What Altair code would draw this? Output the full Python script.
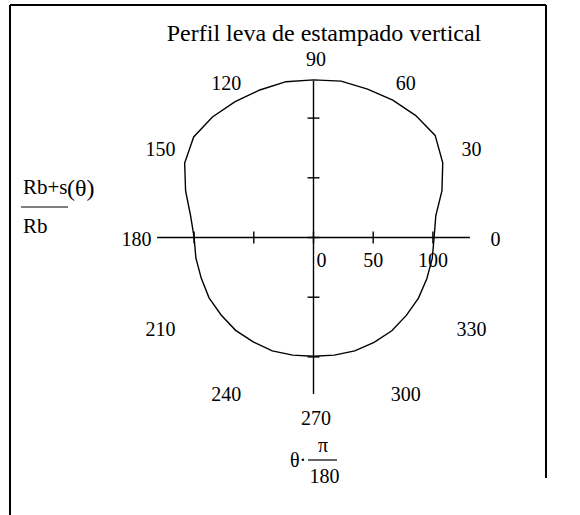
import altair as alt
import pandas as pd

# Cam profile (Rb+s(theta))/Rb, sampled every 10 degrees, scaled so the base circle is 100
theta_deg = list(range(0, 361, 10))
radius = [101, 104, 114.5, 125, 133, 133.3, 132.8, 132.3, 133, 132,
          132.5, 131.5, 131.3, 131.7, 131, 124.6, 114, 104.5, 100,
          100, 100, 101, 101, 101.5, 101, 101, 100, 99.5,
          100, 101, 101.5, 102, 101.5, 101.5, 101, 101, 101]

# Polar grid annotations
angle_labels = [0, 30, 60, 90, 120, 150, 180, 210, 240, 270, 300, 330]
tick_values = [-100, -50, 0, 50, 100]
radial_labels = [50, 100]
zero_label = [0]

W, H = 580, 515
PX = 59.7 / 50            # pixels per radial unit
CX, CY = 313.5, 237.5     # pixel position of the pole
AXIS_R = 131              # half-length of the crossing axes
LABEL_R = 150.3           # radius of the angle labels
FONT = "Liberation Serif"

xs = alt.Scale(domain=[-CX / PX, (W - CX) / PX], nice=False, zero=False)
ys = alt.Scale(domain=[-(H - CY) / PX, CY / PX], nice=False, zero=False)


def X(field):
    return alt.X(field, type="quantitative", scale=xs, axis=None)


def Y(field):
    return alt.Y(field, type="quantitative", scale=ys, axis=None)


profile = pd.DataFrame({"theta": theta_deg, "r": radius})
curve = (
    alt.Chart(profile)
    .transform_calculate(
        px="datum.r * cos(datum.theta * PI / 180)",
        py="datum.r * sin(datum.theta * PI / 180)",
    )
    .mark_line(color="black", strokeWidth=1.4, interpolate="linear")
    .encode(x=X("px"), y=Y("py"), order=alt.Order("theta:Q"))
)

axes_df = pd.DataFrame({
    "x": [-AXIS_R, 0], "x2": [AXIS_R, 0],
    "y": [0, -AXIS_R], "y2": [0, AXIS_R],
})
axes = alt.Chart(axes_df).mark_rule(color="black", strokeWidth=1.4).encode(
    x=X("x"), x2="x2", y=Y("y"), y2="y2"
)

ticks_df = pd.DataFrame({"v": tick_values})
hticks = (
    alt.Chart(ticks_df)
    .transform_calculate(lo="-5", hi="5")
    .mark_rule(color="black", strokeWidth=1.4)
    .encode(x=X("v"), y=Y("lo:Q"), y2="hi:Q")
)
vticks = (
    alt.Chart(ticks_df)
    .transform_calculate(lo="-5", hi="5")
    .mark_rule(color="black", strokeWidth=1.4)
    .encode(y=Y("v"), x=X("lo:Q"), x2="hi:Q")
)

ang = (
    alt.Chart(pd.DataFrame({"a": angle_labels}))
    .transform_calculate(
        lx="%f * cos(datum.a * PI / 180)" % LABEL_R,
        ly="%f * sin(datum.a * PI / 180)" % LABEL_R,
    )
    .mark_text(font=FONT, fontSize=20, color="black", align="center",
               baseline="middle", dx=2.5, dy=2.3)
    .encode(x=X("lx:Q"), y=Y("ly:Q"), text="a:Q")
)

rlab = (
    alt.Chart(pd.DataFrame({"v": radial_labels}))
    .transform_calculate(zy="0")
    .mark_text(font=FONT, fontSize=20, color="black", align="center",
               baseline="middle", dy=23)
    .encode(x=X("v"), y=Y("zy:Q"), text="v:Q")
)
rzero = (
    alt.Chart(pd.DataFrame({"v": zero_label}))
    .transform_calculate(zy="0")
    .mark_text(font=FONT, fontSize=20, color="black", align="left",
               baseline="middle", dx=3, dy=23)
    .encode(x=X("v"), y=Y("zy:Q"), text="v:Q")
)

one = pd.DataFrame({"k": [0]})


def txt(s, x, y, size=20, align="left"):
    return alt.Chart(one).mark_text(
        text=s, font=FONT, fontSize=size, color="black", align=align,
        baseline="alphabetic"
    ).encode(x=alt.value(x), y=alt.value(y))


def line(x, y, x2, y2, w=1.2):
    return alt.Chart(one).mark_rule(color="black", strokeWidth=w).encode(
        x=alt.value(x), y=alt.value(y), x2=alt.value(x2), y2=alt.value(y2)
    )


title = txt("Perfil leva de estampado vertical", 324, 41, size=24, align="center")

# vertical-axis quantity: (Rb+s(θ)) / Rb
ylab = [
    txt("Rb+s", 23, 194, size=21),
    txt("(θ)", 67, 196, size=24),
    line(21, 207, 68, 207),
    txt("Rb", 23, 233, size=21),
]
# angular quantity: θ·π/180
xlab = [
    txt("θ·", 290, 467, size=20),
    txt("π", 323, 452, size=20, align="center"),
    line(308, 460, 337, 460),
    txt("180", 324.5, 483, size=20, align="center"),
]

frame = [
    line(10, 5, 10, H, w=2),
    line(10, 5, 546, 5, w=2),
    line(546, 5, 546, 478, w=2),
]

chart = alt.layer(
    *frame, axes, hticks, vticks, curve, ang, rlab, rzero, title, *ylab, *xlab
).properties(
    width=W, height=H, padding=0, autosize="none",
    background="white",
).configure_view(stroke=None)

chart.save("out.html", embed_options={"renderer": "svg", "actions": False})
